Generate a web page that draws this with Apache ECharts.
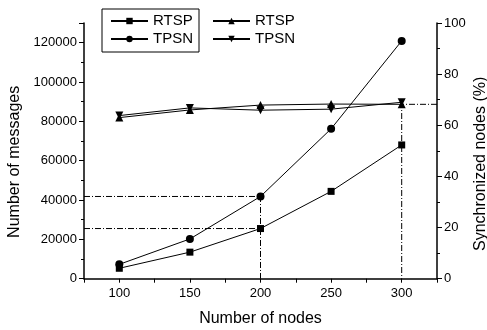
<!DOCTYPE html>
<html>
<head>
<meta charset="utf-8">
<script src="https://cdn.jsdelivr.net/npm/echarts@6/dist/echarts.min.js"></script>
<style>
  html, body { margin: 0; padding: 0; background: #fff; }
  #chart { width: 487px; height: 330px; }
</style>
</head>
<body>
<div id="chart"></div>
<script>
// Node counts on the x axis
const nodes = [100, 150, 200, 250, 300];
// Number of messages (left axis)
const rtspMessages = [5300, 13500, 25500, 44400, 68000];
const tpsnMessages = [7300, 20200, 41800, 76200, 120900];
// Synchronized nodes in percent (right axis)
const rtspSync = [63.0, 66.0, 67.9, 68.3, 68.2];
const tpsnSync = [63.8, 66.8, 65.9, 66.3, 69.0];
// Axis ticks
const xTicks = [100, 150, 200, 250, 300];

const FONT = 'Liberation Sans, Arial, sans-serif';
const pairs = (ys) => nodes.map((x, i) => [x, ys[i]]);

const xMin = 75, xMax = 325;
// Dash-dot guide style
const guide = { color: '#000', width: 1, type: [6, 2, 1, 2] };
const guideSeries = (data, yAxisIndex) => ({
  type: 'line', data, yAxisIndex, symbol: 'none', silent: true,
  lineStyle: guide, z: 1, animation: false
});

const names = {
  rtspMsg: 'RTSP', tpsnMsg: 'TPSN', rtspSync: 'RTSP\u200b', tpsnSync: 'TPSN\u200b'
};

const chart = echarts.init(document.getElementById('chart'), null, { renderer: 'canvas' });
chart.setOption({
  animation: false,
  backgroundColor: '#fff',
  textStyle: { fontFamily: FONT, color: '#000' },
  grid: { left: 84, right: 50, top: 23, bottom: 51.3, containLabel: false, outerBoundsMode: 'none' },
  legend: [
    {
      data: [names.rtspMsg, names.tpsnMsg],
      orient: 'vertical', left: 102, top: 9,
      padding: [4, 6, 5, 8], itemGap: 2, itemWidth: 37, itemHeight: 8,
      borderColor: '#000', borderWidth: 1,
      textStyle: { fontFamily: FONT, fontSize: 15, color: '#000', lineHeight: 16 },
      selectedMode: false
    },
    {
      data: [names.rtspSync, names.tpsnSync],
      orient: 'vertical', left: 204, top: 9,
      padding: [4, 6, 5, 8], itemGap: 2, itemWidth: 37, itemHeight: 8,
      textStyle: { fontFamily: FONT, fontSize: 15, color: '#000', lineHeight: 16 },
      selectedMode: false
    }
  ],
  xAxis: {
    type: 'value', min: xMin, max: xMax, interval: 25,
    name: 'Number of nodes', nameLocation: 'middle', nameGap: 32,
    nameTextStyle: { fontFamily: FONT, fontSize: 16, color: '#000' },
    axisLine: { show: true, lineStyle: { color: '#000', width: 1.5 } },
    axisTick: { show: true, length: 4, lineStyle: { color: '#000' } },
    axisLabel: {
      fontFamily: FONT, fontSize: 13, color: '#000', margin: 8,
      formatter: (v) => (xTicks.includes(v) ? String(v) : '')
    },
    splitLine: { show: false }
  },
  yAxis: [
    {
      type: 'value', min: 0, max: 130000, interval: 20000,
      name: 'Number of messages', nameLocation: 'middle', nameGap: 58, nameRotate: 90,
      nameTextStyle: { fontFamily: FONT, fontSize: 16, color: '#000', padding: [0, 22, 0, 0] },
      axisLine: { show: true, lineStyle: { color: '#000', width: 1.5 } },
      axisTick: { show: true, length: 5, lineStyle: { color: '#000' } },
      minorTick: { show: true, splitNumber: 2, length: 3, lineStyle: { color: '#000' } },
      axisLabel: {
        fontFamily: FONT, fontSize: 13, color: '#000', margin: 7,
        formatter: (v) => (v > 120000 ? '' : String(v))
      },
      splitLine: { show: false }
    },
    {
      type: 'value', min: 0, max: 100, interval: 20, position: 'right',
      name: 'Synchronized nodes (%)', nameLocation: 'middle', nameGap: 36, nameRotate: 90,
      nameMoveOverlap: false,
      nameTextStyle: { fontFamily: FONT, fontSize: 16, color: '#000', padding: [0, 26, 0, 0] },
      axisLine: { show: true, lineStyle: { color: '#000', width: 1.5 } },
      axisTick: { show: true, length: 5, lineStyle: { color: '#000' } },
      minorTick: { show: true, splitNumber: 2, length: 3, lineStyle: { color: '#000' } },
      axisLabel: { fontFamily: FONT, fontSize: 13, color: '#000', margin: 7 },
      splitLine: { show: false }
    }
  ],
  series: [
    // guide lines at 200 nodes (message counts)
    guideSeries([[xMin, tpsnMessages[2]], [nodes[2], tpsnMessages[2]], [nodes[2], 0]], 0),
    guideSeries([[xMin, rtspMessages[2]], [nodes[2], rtspMessages[2]]], 0),
    // guide lines at 300 nodes (synchronized share)
    guideSeries([[xMax, rtspSync[4]], [nodes[4], rtspSync[4]], [nodes[4], 0]], 1),
    {
      name: names.rtspMsg, type: 'line', yAxisIndex: 0, data: pairs(rtspMessages),
      symbol: 'rect', symbolSize: 7,
      lineStyle: { color: '#000', width: 1 }, itemStyle: { color: '#000' }, z: 3
    },
    {
      name: names.tpsnMsg, type: 'line', yAxisIndex: 0, data: pairs(tpsnMessages),
      symbol: 'circle', symbolSize: 8,
      lineStyle: { color: '#000', width: 1 }, itemStyle: { color: '#000' }, z: 3
    },
    {
      name: names.rtspSync, type: 'line', yAxisIndex: 1, data: pairs(rtspSync),
      symbol: 'triangle', symbolSize: 8,
      lineStyle: { color: '#000', width: 1 }, itemStyle: { color: '#000' }, z: 3
    },
    {
      name: names.tpsnSync, type: 'line', yAxisIndex: 1, data: pairs(tpsnSync),
      symbol: 'triangle', symbolSize: 8, symbolRotate: 180,
      lineStyle: { color: '#000', width: 1 }, itemStyle: { color: '#000' }, z: 3
    }
  ]
});
</script>
</body>
</html>
